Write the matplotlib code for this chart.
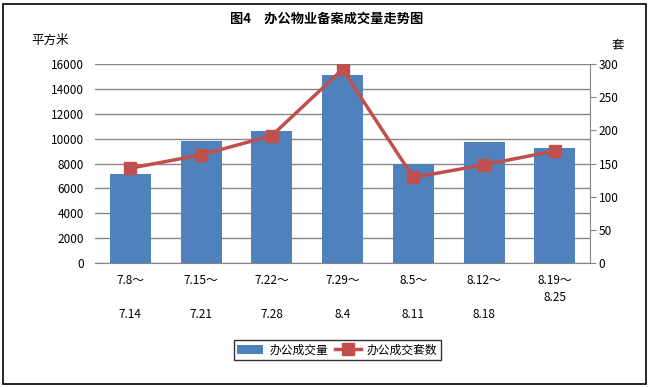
import matplotlib
matplotlib.use("Agg")
import matplotlib.pyplot as plt
from matplotlib.patches import Rectangle

plt.rcParams['font.family'] = ['Noto Sans CJK SC', 'DejaVu Sans']

# 数据
weeks = ["7.8～\n\n7.14", "7.15～\n\n7.21", "7.22～\n\n7.28", "7.29～\n\n8.4",
         "8.5～\n\n8.11", "8.12～\n\n8.18", "8.19～\n8.25\n"]
area = [7150, 9800, 10600, 15100, 8000, 9700, 9250]
units = [143, 163, 192, 292, 129, 148, 169]

bar_color = '#4F81BD'
line_color = '#C0504D'
grid_color = '#868686'

fig = plt.figure(figsize=(6.5, 3.87), dpi=100)
ax = fig.add_axes([0.146, 0.3204, 0.762, 0.5142])
ax2 = ax.twinx()

x = list(range(len(weeks)))
ax.bar(x, area, width=0.58, color=bar_color, zorder=2, label='办公成交量')
ax2.plot(x, units, color=line_color, linewidth=2.5, marker='s', markersize=9,
         zorder=3, label='办公成交套数')

ax.set_ylim(0, 16000)
ax.set_yticks(range(0, 16001, 2000))
ax2.set_ylim(0, 300)
ax2.set_yticks(range(0, 301, 50))
ax.set_xlim(-0.5, len(weeks) - 0.5)
ax.set_xticks(x)
ax.set_xticklabels(weeks, fontsize=8.5, linespacing=1.4)

ax.yaxis.grid(True, color=grid_color, linewidth=1, zorder=0)
ax.set_axisbelow(True)
for a in (ax, ax2):
    for s in ('top', 'left', 'right'):
        a.spines[s].set_visible(False)
    a.spines['bottom'].set_color(grid_color)
ax2.spines['right'].set_visible(True)
ax2.spines['right'].set_color(grid_color)
ax2.spines['bottom'].set_visible(False)

ax.tick_params(axis='y', length=0, pad=8, labelsize=8.5)
ax.tick_params(axis='x', length=0, pad=8)
ax2.tick_params(axis='y', length=4, color=grid_color, pad=2, labelsize=8.5)

fig.text(0.503, 0.951, '图4　办公物业备案成交量走势图', ha='center', va='center',
         fontsize=9.5, fontweight='bold')
fig.text(0.048, 0.896, '平方米', ha='left', va='center', fontsize=9)
fig.text(0.941, 0.883, '套', ha='left', va='center', fontsize=9)

h1, l1 = ax.get_legend_handles_labels()
h2, l2 = ax2.get_legend_handles_labels()
leg = fig.legend(h1 + h2, l1 + l2, loc='center', bbox_to_anchor=(0.519, 0.0955),
                 ncol=2, fontsize=8.5, frameon=True, fancybox=False,
                 handlelength=2.2, columnspacing=0.6, handletextpad=0.5,
                 borderpad=0.3)
leg.get_frame().set_edgecolor('black')
leg.get_frame().set_linewidth(1)

fig.patches.append(Rectangle((0.005, 0.008), 0.989, 0.982, transform=fig.transFigure,
                             fill=False, edgecolor='black', linewidth=1.2))

fig.savefig('out.png', dpi=100)
